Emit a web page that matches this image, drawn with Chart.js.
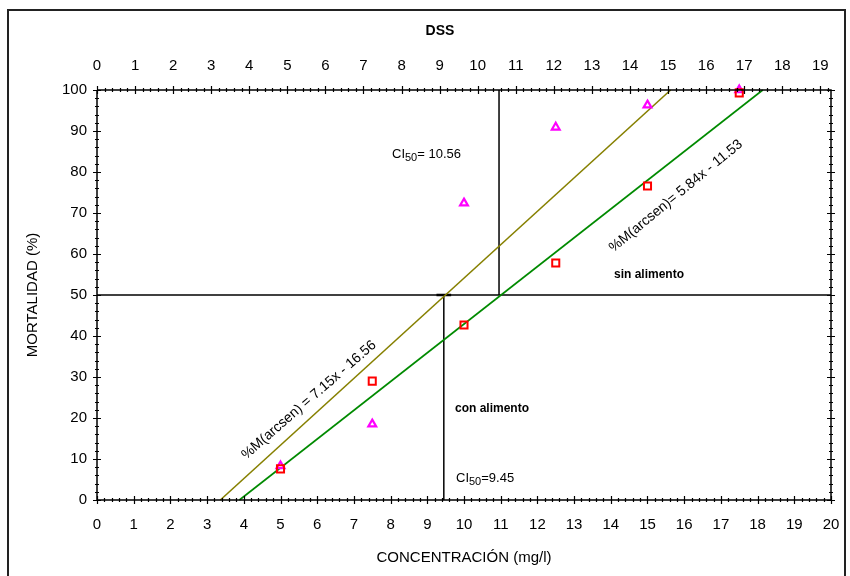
<!DOCTYPE html>
<html><head><meta charset="utf-8">
<script src="https://cdn.jsdelivr.net/npm/chart.js@4"></script>
<style>html,body{margin:0;padding:0;background:#fff}#wrap{width:850px;height:576px;position:relative}</style>
</head><body><div id="wrap"><canvas id="c" width="850" height="576"></canvas></div>
<script>
// ---- data ----
const concentraciones = [5, 7.5, 10, 12.5, 15, 17.5];
const mortalidadCuadrados = [7.6, 29, 42.7, 57.8, 76.6, 99.3];
const mortalidadTriangulos = [8.3, 18.5, 72.4, 90.9, 96.3, 100];
const rectaOlivaX = [3.36, 15.63];
const rectaOlivaY = [0, 100];
const rectaVerdeX = [3.88, 18.14];
const rectaVerdeY = [0, 100];
const ci50ConAlimento = 9.45;   // bottom axis
const ci50SinAlimento = 10.56;  // top (DSS) axis
const nivel50 = 50;
const ticksConc = [0,1,2,3,4,5,6,7,8,9,10,11,12,13,14,15,16,17,18,19,20];
const ticksDSS = [0,1,2,3,4,5,6,7,8,9,10,11,12,13,14,15,16,17,18,19];
const ticksMort = [0,10,20,30,40,50,60,70,80,90,100];
const dssMax = 19.28;

const FONT = 'Liberation Sans, Arial, sans-serif';

function pts(xs, ys){ return xs.map((x,i)=>({x:x, y:ys[i]})); }

const axisPlugin = {
  id: 'axisPlugin',
  beforeDraw(chart){
    const ctx = chart.ctx;
    ctx.save();
    ctx.fillStyle = '#fff';
    ctx.fillRect(0,0,chart.width,chart.height);
    ctx.strokeStyle = '#222';
    ctx.lineWidth = 2;
    ctx.beginPath();
    ctx.moveTo(8, 580); ctx.lineTo(8, 10); ctx.lineTo(845, 10); ctx.lineTo(845, 580);
    ctx.stroke();
    ctx.restore();
  },
  afterDatasetsDraw(chart){
    const ctx = chart.ctx;
    const a = chart.chartArea;
    const sx = chart.scales.x, sx2 = chart.scales.x2, sy = chart.scales.y;
    ctx.save();
    ctx.strokeStyle = '#000';
    ctx.lineWidth = 1.5;
    ctx.beginPath();
    ctx.moveTo(a.left, a.top); ctx.lineTo(a.left, a.bottom); ctx.lineTo(a.right, a.bottom);
    ctx.moveTo(a.left, a.top); ctx.lineTo(a.right, a.top); ctx.lineTo(a.right, a.bottom);
    ctx.stroke();
    ctx.lineWidth = 1.2;
    ctx.beginPath();
    for (let v = 0; v <= 20.001; v += 0.2) {
      const major = Math.abs(v - Math.round(v)) < 1e-6;
      const p = Math.round(sx.getPixelForValue(v)) + 0.5;
      const h = major ? 4 : 2;
      ctx.moveTo(p, a.bottom - h); ctx.lineTo(p, a.bottom + h);
    }
    for (let v = 0; v <= dssMax + 1e-6; v += 0.2) {
      const major = Math.abs(v - Math.round(v)) < 1e-6;
      const p = Math.round(sx2.getPixelForValue(v)) + 0.5;
      const h = major ? 4 : 2;
      ctx.moveTo(p, a.top - h); ctx.lineTo(p, a.top + h);
    }
    for (let v = 0; v <= 100.001; v += 2) {
      const major = Math.abs(v/10 - Math.round(v/10)) < 1e-6;
      const p = Math.round(sy.getPixelForValue(v)) + 0.5;
      const h = major ? 4 : 2;
      ctx.moveTo(a.left - h, p); ctx.lineTo(a.left + h, p);
      ctx.moveTo(a.right - h, p); ctx.lineTo(a.right + h, p);
    }
    ctx.stroke();

    ctx.fillStyle = '#000';
    ctx.font = 'bold 14px ' + FONT;
    ctx.textAlign = 'center'; ctx.textBaseline = 'middle';
    ctx.fillText('DSS', 440, 31);

    function ci(x, y, rest){
      ctx.font = '13px ' + FONT;
      ctx.textAlign = 'left'; ctx.textBaseline = 'alphabetic';
      ctx.fillText('CI', x, y);
      let w = ctx.measureText('CI').width;
      ctx.font = '11px ' + FONT;
      ctx.fillText('50', x + w, y + 3);
      w += ctx.measureText('50').width;
      ctx.font = '13px ' + FONT;
      ctx.fillText(rest, x + w, y);
    }
    ci(392, 158, '= 10.56');
    ci(456, 482, '=9.45');

    ctx.font = 'bold 12px ' + FONT;
    ctx.textAlign = 'left'; ctx.textBaseline = 'middle';
    ctx.fillText('con alimento', 455, 409);
    ctx.fillText('sin alimento', 614, 275);

    ctx.font = '14px ' + FONT;
    ctx.textAlign = 'center';
    ctx.save();
    ctx.translate(309, 400);
    ctx.rotate(-41 * Math.PI/180);
    ctx.fillText('%M(arcsen) = 7.15x - 16.56', 0, 0);
    ctx.restore();
    ctx.save();
    ctx.translate(676, 196);
    ctx.rotate(-39.5 * Math.PI/180);
    ctx.fillText('%M(arcsen)= 5.84x - 11.53', 0, 0);
    ctx.restore();
    ctx.restore();
  }
};

const tickFont = { family: FONT, size: 15 };

new Chart(document.getElementById('c'), {
  type: 'scatter',
  data: {
    datasets: [
      { data: pts([0, 20], [nivel50, nivel50]), showLine: true, borderColor: '#000', borderWidth: 1.5, pointRadius: 0, xAxisID: 'x', order: 5 },
      { data: pts([ci50ConAlimento, ci50ConAlimento], [0, nivel50]), showLine: true, borderColor: '#000', borderWidth: 1.5, pointRadius: 0, xAxisID: 'x', order: 5 },
      { data: pts([ci50ConAlimento - 0.2, ci50ConAlimento + 0.2], [nivel50, nivel50]), showLine: true, borderColor: '#000', borderWidth: 2.5, pointRadius: 0, xAxisID: 'x', order: 5 },
      { data: pts([ci50SinAlimento, ci50SinAlimento], [nivel50, 100]), showLine: true, borderColor: '#000', borderWidth: 1.5, pointRadius: 0, xAxisID: 'x2', order: 5 },
      { data: pts(rectaOlivaX, rectaOlivaY), showLine: true, borderColor: '#868000', borderWidth: 1.6, pointRadius: 0, xAxisID: 'x', order: 4 },
      { data: pts(rectaVerdeX, rectaVerdeY), showLine: true, borderColor: '#008a00', borderWidth: 1.6, pointRadius: 0, xAxisID: 'x', order: 4 },
      { data: pts(concentraciones, mortalidadTriangulos), pointStyle: 'triangle', pointRadius: 4.5, borderWidth: 2.2, borderColor: '#ff00ff', backgroundColor: '#fff', xAxisID: 'x', order: 2 },
      { data: pts(concentraciones, mortalidadCuadrados), pointStyle: 'rect', pointRadius: 5, borderWidth: 2, borderColor: '#ff0000', backgroundColor: 'rgba(255,255,255,0)', xAxisID: 'x', order: 1 }
    ]
  },
  options: {
    responsive: false,
    animation: false,
    devicePixelRatio: 1,
    clip: false,
    layout: { padding: { left: 20, top: 0, right: 0, bottom: 5 } },
    plugins: { legend: { display: false }, tooltip: { enabled: false } },
    scales: {
      x: {
        type: 'linear', position: 'bottom', min: 0, max: 20,
        afterBuildTicks: s => { s.ticks = ticksConc.map(v => ({ value: v })); },
        ticks: { font: tickFont, color: '#000', padding: 8, maxRotation: 0, autoSkip: false },
        grid: { display: false }, border: { display: false },
        title: { display: true, text: 'CONCENTRACIÓN (mg/l)', font: { family: FONT, size: 15 }, color: '#000', padding: { top: 5 } },
        afterFit: s => { s.height = 71; }
      },
      x2: {
        type: 'linear', position: 'top', min: 0, max: dssMax,
        afterBuildTicks: s => { s.ticks = ticksDSS.map(v => ({ value: v })); },
        ticks: { font: tickFont, color: '#000', padding: 7, maxRotation: 0, autoSkip: false },
        grid: { display: false }, border: { display: false },
        afterFit: s => { s.height = 90; }
      },
      y: {
        type: 'linear', position: 'left', min: 0, max: 100,
        afterBuildTicks: s => { s.ticks = ticksMort.map(v => ({ value: v })); },
        ticks: { font: tickFont, color: '#000', padding: 2 },
        grid: { display: false }, border: { display: false },
        title: { display: true, text: 'MORTALIDAD (%)', font: { family: FONT, size: 15 }, color: '#000', padding: { bottom: 6 } },
        afterFit: s => { s.width = 77; }
      },
      y2: {
        type: 'linear', position: 'right', min: 0, max: 100,
        ticks: { display: false },
        grid: { display: false }, border: { display: false },
        afterFit: s => { s.width = 19; }
      }
    }
  },
  plugins: [axisPlugin]
});
</script>
</body></html>
